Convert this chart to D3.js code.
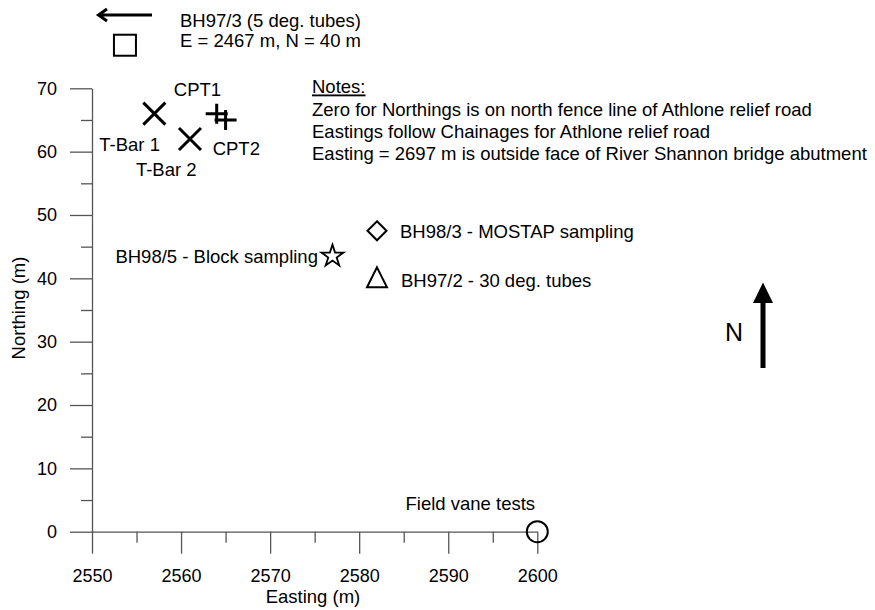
<!DOCTYPE html>
<html>
<head>
<meta charset="utf-8">
<script src="https://cdn.jsdelivr.net/npm/d3@7"></script>
<style>
  html, body { margin: 0; padding: 0; background: #fff; }
  svg text { font-family: "Liberation Sans", Arial, sans-serif; }
</style>
</head>
<body>
<svg id="chart" width="875" height="610"></svg>
<script>
// Site investigation locations (Easting, Northing in metres)
const xMajorTicks = [2550, 2560, 2570, 2580, 2590, 2600];
const xMinorTicks = [2555, 2565, 2575, 2585, 2595];
const yMajorTicks = [0, 10, 20, 30, 40, 50, 60, 70];
const yMinorTicks = [5, 15, 25, 35, 45, 55, 65];

const crossPoints = [
  { name: "T-Bar 1", e: 2557, n: 66 },
  { name: "T-Bar 2", e: 2561, n: 62 }
];
const plusPoints = [
  { name: "CPT1", e: 2564, n: 66 },
  { name: "CPT2", e: 2565, n: 65 }
];
const starPoints = [{ name: "BH98/5 - Block sampling", e: 2577, n: 43.5 }];
const diamondPoints = [{ name: "BH98/3 - MOSTAP sampling", e: 2582, n: 47.5 }];
const trianglePoints = [{ name: "BH97/2 - 30 deg. tubes", e: 2582, n: 40 }];
const circlePoints = [{ name: "Field vane tests", e: 2600, n: 0 }];
// BH97/3 lies off the plotted area; drawn as an offset symbol beside its note
const offPlotSquare = [{ e: 2553.7, n: 76.8 }];

const noteLines = [
  "Zero for Northings is on north fence line of Athlone relief road",
  "Eastings follow Chainages for Athlone relief road",
  "Easting = 2697 m is outside face of River Shannon bridge abutment"
];

const svg = d3.select("#chart");
const x = d3.scaleLinear().domain([2550, 2600]).range([92, 537.3]);
const y = d3.scaleLinear().domain([0, 70]).range([531.7, 88.3]);

const axisColor = "#555";
const tickFont = 18;
const labelFont = 18.5;

// Axes: major ticks labelled, minor ticks shorter
function styleAxis(g) {
  g.selectAll("path, line").attr("stroke", axisColor).attr("stroke-width", 1.3);
  g.selectAll("text").attr("fill", "#000").style("font-size", tickFont + "px");
}

svg.append("g").attr("transform", `translate(0,${y(0)})`)
  .call(d3.axisBottom(x).tickValues(xMajorTicks).tickFormat(d3.format("d"))
    .tickSize(22).tickSizeOuter(0).tickPadding(16))
  .call(styleAxis);
svg.append("g").attr("transform", `translate(0,${y(0)})`)
  .call(d3.axisBottom(x).tickValues(xMinorTicks).tickFormat("").tickSize(11).tickSizeOuter(0))
  .call(g => g.select(".domain").remove())
  .call(styleAxis);

svg.append("g").attr("transform", `translate(${x(2550)},0)`)
  .call(d3.axisLeft(y).tickValues(yMajorTicks).tickFormat(d3.format("d"))
    .tickSize(22).tickSizeOuter(0).tickPadding(13))
  .call(styleAxis);
svg.append("g").attr("transform", `translate(${x(2550)},0)`)
  .call(d3.axisLeft(y).tickValues(yMinorTicks).tickFormat("").tickSize(11).tickSizeOuter(0))
  .call(g => g.select(".domain").remove())
  .call(styleAxis);

// Axis titles
svg.append("text").attr("x", 313).attr("y", 597).attr("dy", "0.35em").attr("text-anchor", "middle")
  .style("font-size", labelFont + "px").text("Easting (m)");
svg.append("text").attr("transform", `translate(18.5,308) rotate(-90)`).attr("dy", "0.35em")
  .attr("text-anchor", "middle").style("font-size", labelFont + "px").text("Northing (m)");

const marks = svg.append("g").attr("fill", "none").attr("stroke", "#000");

// Crosses (T-Bar)
const cs = 11;
crossPoints.forEach(p => {
  const cx = x(p.e), cy = y(p.n);
  marks.append("path").attr("stroke-width", 3)
    .attr("d", `M${cx - cs},${cy - cs}L${cx + cs},${cy + cs}M${cx - cs},${cy + cs}L${cx + cs},${cy - cs}`);
});
// Plus signs (CPT)
plusPoints.forEach(p => {
  const cx = x(p.e), cy = y(p.n);
  marks.append("path").attr("stroke-width", 3)
    .attr("d", `M${cx - 11},${cy}L${cx + 11},${cy}M${cx},${cy - 10}L${cx},${cy + 10}`);
});
// Star
starPoints.forEach(p => {
  marks.append("path").attr("stroke-width", 1.8)
    .attr("transform", `translate(${x(p.e)},${y(p.n)})`)
    .attr("d", d3.symbol(d3.symbolStar, 150)());
});
// Diamond
diamondPoints.forEach(p => {
  const cx = x(p.e), cy = y(p.n), r = 9.5;
  marks.append("path").attr("stroke-width", 2)
    .attr("d", `M${cx},${cy - r}L${cx + r},${cy}L${cx},${cy + r}L${cx - r},${cy}Z`);
});
// Triangle
trianglePoints.forEach(p => {
  const cx = x(p.e), cy = y(p.n);
  marks.append("path").attr("stroke-width", 2)
    .attr("d", `M${cx},${cy - 11}L${cx + 10},${cy + 9}L${cx - 10},${cy + 9}Z`);
});
// Circle
circlePoints.forEach(p => {
  marks.append("circle").attr("stroke-width", 2)
    .attr("cx", x(p.e)).attr("cy", y(p.n)).attr("r", 10.5);
});
// Off-plot square
offPlotSquare.forEach(p => {
  marks.append("rect").attr("stroke-width", 2)
    .attr("x", x(p.e) - 11).attr("y", y(p.n) - 10.5).attr("width", 22).attr("height", 21);
});

// Point labels
function label(txt, lx, ly, anchor) {
  svg.append("text").attr("x", lx).attr("y", ly).attr("dy", "0.35em")
    .attr("text-anchor", anchor || "middle").style("font-size", labelFont + "px").text(txt);
}
label(crossPoints[0].name, x(crossPoints[0].e) - 24.7, y(crossPoints[0].n) + 30.7);
label(crossPoints[1].name, x(crossPoints[1].e) - 23.7, y(crossPoints[1].n) + 30.3);
label(plusPoints[0].name, x(plusPoints[0].e) - 19.2, y(plusPoints[0].n) - 24.4);
label(plusPoints[1].name, x(plusPoints[1].e) + 10.7, y(plusPoints[1].n) + 29);
label(starPoints[0].name, x(starPoints[0].e) - 14.5, y(starPoints[0].n) + 0.5, "end");
label(diamondPoints[0].name, x(diamondPoints[0].e) + 23, y(diamondPoints[0].n) + 1, "start");
label(trianglePoints[0].name, x(trianglePoints[0].e) + 24, y(trianglePoints[0].n) + 2.5, "start");
label(circlePoints[0].name, x(circlePoints[0].e) - 67, y(circlePoints[0].n) - 27.7);

// BH97/3 note with west-pointing arrow
svg.append("text").attr("x", 180).attr("y", 20.3).attr("dy", "0.35em")
  .style("font-size", labelFont + "px").text("BH97/3 (5 deg. tubes)");
svg.append("text").attr("x", 180).attr("y", 40.3).attr("dy", "0.35em")
  .style("font-size", labelFont + "px").text("E = 2467 m, N = 40 m");
svg.append("path").attr("fill", "none").attr("stroke", "#000").attr("stroke-width", 3)
  .attr("d", "M99,15L152,15M107,9L98.5,15L107,21");

// Notes block
const notes = svg.append("g").style("font-size", labelFont + "px");
notes.append("text").attr("x", 312).attr("y", 87).attr("dy", "0.35em")
  .attr("text-decoration", "underline").text("Notes:");
noteLines.forEach((t, i) => {
  notes.append("text").attr("x", 312).attr("y", 109.5 + i * 22.2).attr("dy", "0.35em").text(t);
});

// North arrow
svg.append("line").attr("x1", 763).attr("x2", 763).attr("y1", 368).attr("y2", 300)
  .attr("stroke", "#000").attr("stroke-width", 5);
svg.append("path").attr("fill", "#000").attr("d", "M763,282.5L773,303L753,303Z");
svg.append("text").attr("x", 734).attr("y", 332).attr("dy", "0.35em")
  .attr("text-anchor", "middle").style("font-size", "25px").text("N");
</script>
</body>
</html>
